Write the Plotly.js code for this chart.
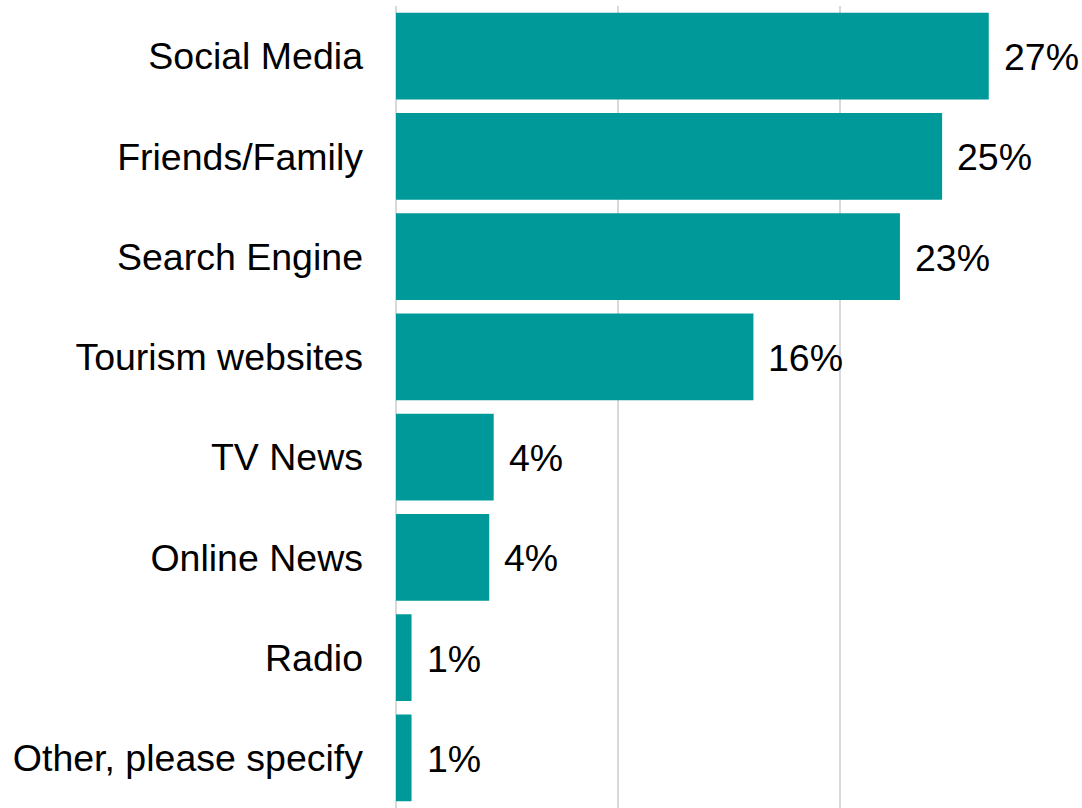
<!DOCTYPE html>
<html>
<head>
<meta charset="utf-8">
<script src="https://cdn.plot.ly/plotly-3.0.1.min.js"></script>
<style>html,body{margin:0;padding:0;background:#fff;}#chart{width:1082px;height:808px;}</style>
</head>
<body>
<div id="chart"></div>
<script>
const categories = ["Social Media","Friends/Family","Search Engine","Tourism websites","TV News","Online News","Radio","Other, please specify"];
const values = [26.7, 24.6, 22.7, 16.1, 4.4, 4.2, 0.7, 0.7];
const valueLabels = values.map(v => Math.round(v) + "%");

const trace = {
  type: "bar",
  orientation: "h",
  x: values,
  y: categories,
  marker: {color: "#009999"},
  hoverinfo: "none"
};

const annotations = values.map((v, i) => ({
  x: v, y: categories[i], xref: "x", yref: "y",
  text: valueLabels[i], showarrow: false,
  xanchor: "left", yanchor: "middle", xshift: 13, yshift: -1,
  font: {family: "Liberation Sans, Arial, sans-serif", size: 37.5, color: "#000"}
}));

const layout = {
  width: 1082, height: 808,
  margin: {l: 396, r: 20, t: 6, b: 0},
  paper_bgcolor: "#fff", plot_bgcolor: "#fff",
  bargap: 0.135,
  showlegend: false,
  font: {family: "Liberation Sans, Arial, sans-serif", size: 37.5, color: "#000"},
  xaxis: {
    range: [0, 30], dtick: 10, tick0: 0,
    showgrid: true, gridcolor: "#d9d9d9", gridwidth: 1.5,
    zeroline: true, zerolinecolor: "#d9d9d9", zerolinewidth: 1.5,
    showticklabels: false, ticks: "", fixedrange: true
  },
  yaxis: {
    autorange: "reversed", type: "category",
    showgrid: false, zeroline: false, ticks: "",
    ticklabelstandoff: 32,
    tickfont: {family: "Liberation Sans, Arial, sans-serif", size: 37.5, color: "#000"}
  },
  annotations: annotations
};

Plotly.newPlot("chart", [trace], layout, {displayModeBar: false, staticPlot: true});
</script>
</body>
</html>
